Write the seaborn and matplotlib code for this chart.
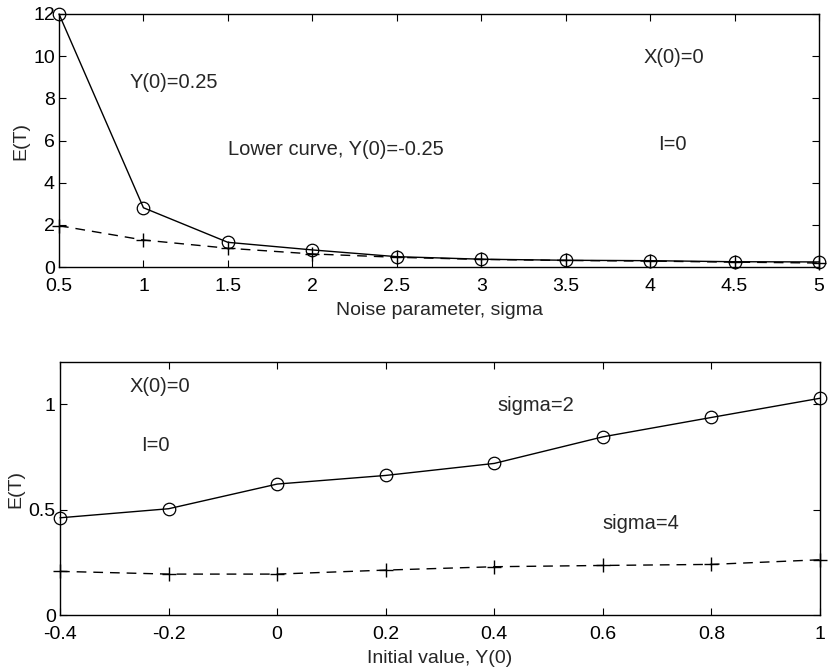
import matplotlib
matplotlib.use("Agg")
import matplotlib.pyplot as plt
import seaborn as sns
import pandas as pd

# Expected exit time vs noise parameter (top panel)
sigma = [0.5, 1.0, 1.5, 2.0, 2.5, 3.0, 3.5, 4.0, 4.5, 5.0]
et_y0_pos = [12.0, 2.81, 1.17, 0.81, 0.49, 0.37, 0.32, 0.30, 0.25, 0.24]
et_y0_neg = [1.96, 1.28, 0.89, 0.62, 0.46, 0.36, 0.31, 0.28, 0.23, 0.19]

# Expected exit time vs initial value Y(0) (bottom panel)
y0 = [-0.4, -0.2, 0.0, 0.2, 0.4, 0.6, 0.8, 1.0]
et_sigma2 = [0.461, 0.504, 0.621, 0.662, 0.719, 0.845, 0.937, 1.028]
et_sigma4 = [0.207, 0.194, 0.194, 0.213, 0.229, 0.235, 0.240, 0.262]

sns.set_style("ticks")
plt.rcParams["font.family"] = ["Liberation Sans", "DejaVu Sans"]
plt.rcParams["xtick.direction"] = "in"
plt.rcParams["ytick.direction"] = "in"
plt.rcParams["xtick.top"] = True
plt.rcParams["ytick.right"] = True

W, H = 833, 669
fig = plt.figure(figsize=(W / 100, H / 100), dpi=100)
fs = 14
fs_note = 14.5


def frac_axes(left, top, right, bottom):
    return fig.add_axes([left / W, 1 - bottom / H, (right - left) / W, (bottom - top) / H])


solid_kw = dict(color="black", linewidth=1.0, marker="o", markersize=9,
                markerfacecolor="none", markeredgecolor="black", markeredgewidth=0.9)
dash_kw = dict(color="black", linewidth=1.0, marker="+", markersize=10,
               markeredgecolor="black", markeredgewidth=1.0)
dash_style = (0, (7, 5))

# Top panel
ax1 = frac_axes(59, 14, 819, 267)
df1 = pd.DataFrame({"sigma": sigma, "pos": et_y0_pos, "neg": et_y0_neg})
sns.lineplot(data=df1, x="sigma", y="neg", ax=ax1, linestyle=dash_style, **dash_kw)
sns.lineplot(data=df1, x="sigma", y="pos", ax=ax1, linestyle="-", **solid_kw)
for ln in ax1.lines:
    ln.set_clip_on(False)
ax1.set_xlim(0.5, 5)
ax1.set_ylim(0, 12)
ax1.set_xticks(sigma)
ax1.set_xticklabels(["0.5", "1", "1.5", "2", "2.5", "3", "3.5", "4", "4.5", "5"])
ax1.set_yticks([0, 2, 4, 6, 8, 10, 12])
ax1.set_xlabel("Noise parameter, sigma", fontsize=fs, labelpad=5)
ax1.set_ylabel("E(T)", fontsize=fs, labelpad=3)
ax1.text(0.92, 8.73, "Y(0)=0.25", fontsize=fs_note, va="center")
ax1.text(1.5, 5.55, "Lower curve, Y(0)=-0.25", fontsize=fs_note, va="center")
ax1.text(3.96, 9.96, "X(0)=0", fontsize=fs_note, va="center")
ax1.text(4.05, 5.79, "I=0", fontsize=fs_note, va="center")

# Bottom panel
ax2 = frac_axes(60, 362, 820, 615)
df2 = pd.DataFrame({"y0": y0, "s2": et_sigma2, "s4": et_sigma4})
sns.lineplot(data=df2, x="y0", y="s4", ax=ax2, linestyle=dash_style, **dash_kw)
sns.lineplot(data=df2, x="y0", y="s2", ax=ax2, linestyle="-", **solid_kw)
for ln in ax2.lines:
    ln.set_clip_on(False)
ax2.set_xlim(-0.4, 1.0)
ax2.set_ylim(0, 1.2)
ax2.set_xticks(y0)
ax2.set_xticklabels(["-0.4", "-0.2", "0", "0.2", "0.4", "0.6", "0.8", "1"])
ax2.set_yticks([0, 0.5, 1.0])
ax2.set_yticklabels(["0", "0.5", "1"])
ax2.set_xlabel("Initial value, Y(0)", fontsize=fs, labelpad=5)
ax2.set_ylabel("E(T)", fontsize=fs, labelpad=3)
ax2.text(-0.271, 1.082, "X(0)=0", fontsize=fs_note, va="center")
ax2.text(-0.251, 0.806, "I=0", fontsize=fs_note, va="center")
ax2.text(0.405, 0.995, "sigma=2", fontsize=fs_note, va="center")
ax2.text(0.60, 0.436, "sigma=4", fontsize=fs_note, va="center")

for ax in (ax1, ax2):
    for sp in ax.spines.values():
        sp.set_visible(True)
        sp.set_linewidth(1.0)
        sp.set_color("black")
    ax.tick_params(axis="both", labelsize=fs, length=5, width=0.8, pad=3, colors="black")
    ax.tick_params(axis="x", pad=8)

fig.savefig("out.png", dpi=100)
